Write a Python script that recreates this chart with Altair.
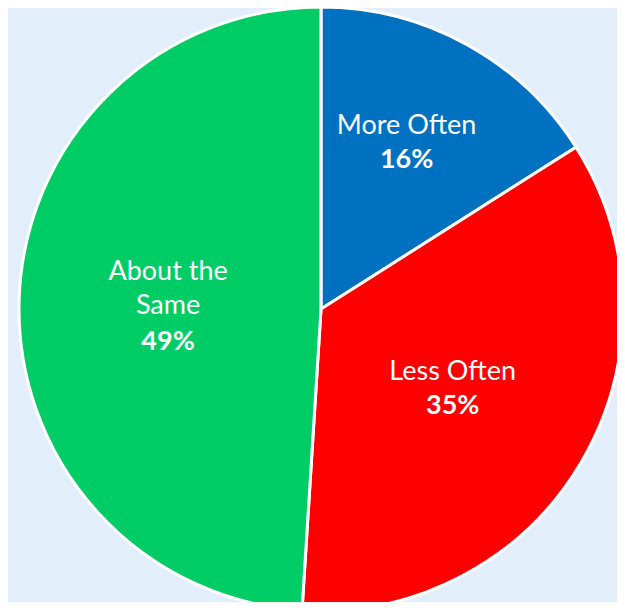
import altair as alt
import pandas as pd

categories = ["More Often", "Less Often", "About the Same"]
name_labels = ["More Often", "Less Often", "About the\nSame"]
values = [16, 35, 49]
pct_labels = ["16%", "35%", "49%"]
colors = ["#0070C0", "#FF0000", "#00CC66"]

df = pd.DataFrame({
    "category": categories,
    "name": name_labels,
    "value": values,
    "pct": pct_labels,
    "order": list(range(len(categories))),
})

CX, CY, R = 313, 301, 302
FONT = "Lato"

base = alt.Chart(df).encode(
    theta=alt.Theta("value:Q", stack=True),
    order=alt.Order("order:Q"),
    x=alt.value(CX),
    y=alt.value(CY),
)

arcs = base.mark_arc(outerRadius=R, stroke="white", strokeWidth=3).encode(
    color=alt.Color("category:N", scale=alt.Scale(domain=categories, range=colors), legend=None)
)

r_expr = "datum.category == 'More Often' ? 186 : 153"
name_dy = "datum.category == 'About the Same' ? -18 : (datum.category == 'More Often' ? -6 : -1)"
pct_dy = "datum.category == 'About the Same' ? 25 : (datum.category == 'More Often' ? 1 : 6)"

names = base.mark_text(
    font=FONT, fontSize=27, color="white", baseline="bottom", align="center",
    lineBreak="\n", lineHeight=34, dy=alt.expr(name_dy), dx=alt.expr("datum.category == 'More Often' ? -4 : 0"),
    radius=alt.expr(r_expr),
).encode(text="name:N")

pcts = base.mark_text(
    font=FONT, fontSize=27, fontWeight="bold", color="white", baseline="top", align="center",
    dy=alt.expr(pct_dy), dx=alt.expr("datum.category == 'More Often' ? -4 : 0"),
    radius=alt.expr(r_expr),
).encode(text="pct:N")

chart = alt.layer(arcs, names, pcts).properties(
    width=609, height=594,
    autosize=alt.AutoSizeParams(type="none"),
    padding=0,
    background="#E2EEF9",
).configure_view(stroke=None)

chart.save("out.html", embed_options={"renderer": "svg", "actions": False})
